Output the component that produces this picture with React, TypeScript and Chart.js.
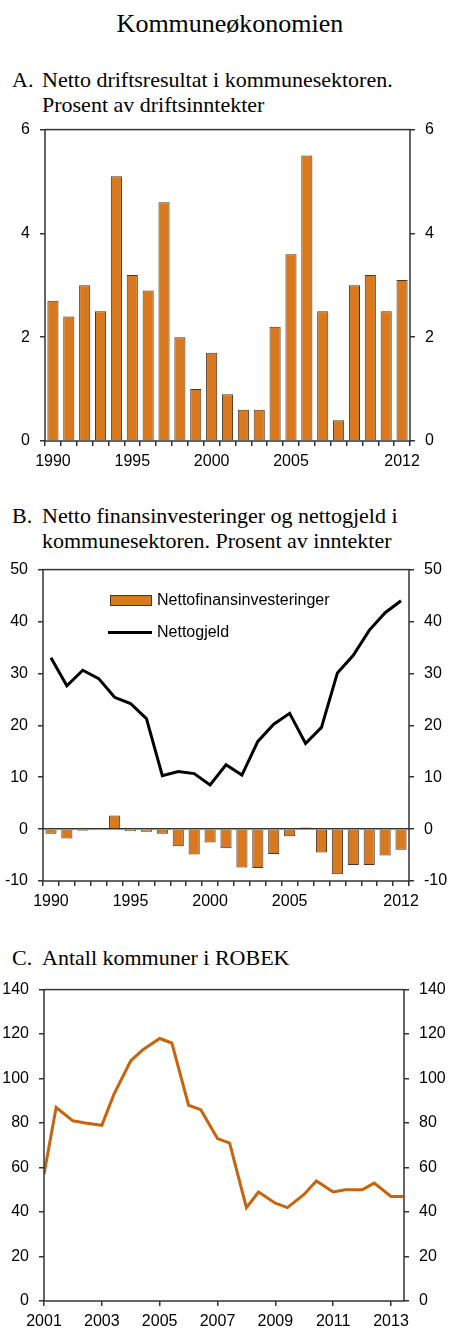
import { useEffect, useRef } from "react";
import { Chart, registerables } from "chart.js";
import type { ChartConfiguration, Plugin } from "chart.js";

Chart.register(...registerables);

// Panel A and B: years 1990-2012
const years = [
  "1990", "1991", "1992", "1993", "1994", "1995", "1996", "1997", "1998", "1999", "2000", "2001",
  "2002", "2003", "2004", "2005", "2006", "2007", "2008", "2009", "2010", "2011", "2012",
];
const shownYears = ["1990", "1995", "2000", "2005", "2012"];

// A. Netto driftsresultat, prosent av driftsinntekter
const driftsresultat = [
  2.7, 2.4, 3.0, 2.5, 5.1, 3.2, 2.9, 4.6, 2.0, 1.0, 1.7, 0.9, 0.6, 0.6, 2.2, 3.6, 5.5, 2.5, 0.4,
  3.0, 3.2, 2.5, 3.1,
];

// B. Nettofinansinvesteringer og nettogjeld, prosent av inntekter
const nettofinansinvesteringer = [
  -0.9, -1.8, -0.3, 0, 2.6, -0.4, -0.5, -0.9, -3.3, -4.9, -2.6, -3.7, -7.4, -7.5, -4.8, -1.4, 0.3,
  -4.5, -8.7, -6.9, -6.9, -5.1, -4.0,
];
const nettogjeld = [
  33.0, 27.6, 30.6, 29.0, 25.4, 24.2, 21.3, 10.3, 11.1, 10.7, 8.5, 12.4, 10.4, 16.9, 20.2, 22.3,
  16.5, 19.6, 30.1, 33.5, 38.3, 41.7, 44.0,
];

// C. Antall kommuner i ROBEK (januar og juni hvert år)
const robekDates = [
  2001.0, 2001.42, 2002.0, 2002.42, 2003.0, 2003.42, 2004.0, 2004.42, 2005.0, 2005.42, 2006.0,
  2006.42, 2007.0, 2007.42, 2008.0, 2008.42, 2009.0, 2009.42, 2010.0, 2010.42, 2011.0, 2011.42,
  2012.0, 2012.42, 2013.0, 2013.42,
];
const robekCounts = [
  57, 87, 81, 80, 79, 93, 108, 113, 118, 116, 88, 86, 73, 71, 42, 49, 44, 42, 48, 54, 49, 50, 50,
  53, 47, 47,
];
const robekTicks = [2001, 2003, 2005, 2007, 2009, 2011, 2013];

const ORANGE = "#d9791f";
const BAR_EDGE = "#4a3522";
const LINE_ORANGE = "#c8630e";
const AXIS = "#333333";
const tickFont = { family: "'Liberation Sans', Arial, sans-serif", size: 16 };
const serif = "'Liberation Serif', 'Times New Roman', serif";
const sans = "'Liberation Sans', Arial, sans-serif";

const framePlugin: Plugin = {
  id: "frame",
  afterDraw(chart) {
    const { ctx, chartArea: a } = chart;
    ctx.save();
    ctx.strokeStyle = AXIS;
    ctx.lineWidth = 1.5;
    ctx.strokeRect(a.left, a.top, a.right - a.left, a.bottom - a.top);
    ctx.restore();
  },
};

function yAxis(position: "left" | "right", min: number, max: number, step: number, width: number, zeroLine = false) {
  return {
    position,
    min,
    max,
    border: { display: false },
    grid: {
      drawOnChartArea: zeroLine,
      color: (c: any) => (zeroLine && c.tick && c.tick.value === 0 ? AXIS : "rgba(0,0,0,0)"),
      tickColor: AXIS,
      tickLength: 5,
      lineWidth: 1.5,
    },
    ticks: { stepSize: step, padding: 10, color: "#000", font: tickFont },
    afterFit(scale: any) {
      scale.width = width;
    },
  };
}

function yearAxis() {
  return {
    type: "category" as const,
    offset: true,
    border: { display: false },
    grid: { offset: true, drawOnChartArea: false, tickColor: AXIS, tickLength: 5, lineWidth: 1.5 },
    ticks: {
      autoSkip: false,
      maxRotation: 0,
      padding: 6,
      color: "#000",
      font: tickFont,
      callback(this: any, value: any) {
        const label = this.getLabelForValue(value);
        return shownYears.includes(label) ? label : "";
      },
    },
    afterFit(scale: any) {
      scale.height = 30;
    },
  };
}

function makeA(): ChartConfiguration {
  return {
    type: "bar",
    data: {
      labels: years,
      datasets: [
        {
          data: driftsresultat,
          backgroundColor: ORANGE,
          borderColor: BAR_EDGE,
          borderWidth: 1,
          barPercentage: 0.7,
          categoryPercentage: 1,
        },
      ],
    },
    options: {
      responsive: true,
      maintainAspectRatio: false,
      animation: false,
      layout: { padding: { top: 14, bottom: 4, left: 0, right: 0 } },
      plugins: { legend: { display: false }, tooltip: { enabled: false } },
      scales: {
        x: yearAxis(),
        y: yAxis("left", 0, 6, 2, 45),
        y2: yAxis("right", 0, 6, 2, 40),
      } as any,
    },
    plugins: [framePlugin],
  };
}

function makeB(): ChartConfiguration {
  return {
    type: "bar",
    data: {
      labels: years,
      datasets: [
        {
          type: "line",
          label: "Nettogjeld",
          data: nettogjeld,
          borderColor: "#000",
          borderWidth: 3,
          pointRadius: 0,
          tension: 0,
          yAxisID: "y",
        } as any,
        {
          label: "Nettofinansinvesteringer",
          data: nettofinansinvesteringer,
          backgroundColor: ORANGE,
          borderColor: BAR_EDGE,
          borderWidth: 1,
          barPercentage: 0.7,
          categoryPercentage: 1,
          yAxisID: "y",
        },
      ],
    },
    options: {
      responsive: true,
      maintainAspectRatio: false,
      animation: false,
      layout: { padding: { top: 17, bottom: 4, left: 0, right: 0 } },
      plugins: { legend: { display: false }, tooltip: { enabled: false } },
      scales: {
        x: yearAxis(),
        y: yAxis("left", -10, 50, 10, 43, true),
        y2: yAxis("right", -10, 50, 10, 41),
      } as any,
    },
    plugins: [framePlugin],
  };
}

function makeC(): ChartConfiguration {
  return {
    type: "line",
    data: {
      datasets: [
        {
          data: robekDates.map((d, i) => ({ x: d, y: robekCounts[i] })),
          borderColor: LINE_ORANGE,
          borderWidth: 3,
          pointRadius: 0,
          tension: 0,
        },
      ],
    },
    options: {
      responsive: true,
      maintainAspectRatio: false,
      animation: false,
      layout: { padding: { top: 13, bottom: 4, left: 0, right: 0 } },
      plugins: { legend: { display: false }, tooltip: { enabled: false } },
      scales: {
        x: {
          type: "linear",
          min: 2001,
          max: 2013.45,
          border: { display: false },
          grid: { drawOnChartArea: false, tickColor: AXIS, tickLength: 5, lineWidth: 1.5 },
          afterBuildTicks(scale: any) {
            scale.ticks = robekTicks.map((v) => ({ value: v }));
          },
          ticks: {
            padding: 6,
            color: "#000",
            font: tickFont,
            callback: (v: any) => String(v),
          },
          afterFit(scale: any) {
            scale.height = 30;
          },
        },
        y: yAxis("left", 0, 140, 20, 44),
        y2: yAxis("right", 0, 140, 20, 46),
      } as any,
    },
    plugins: [framePlugin],
  };
}

function ChartBox({ top, height, make }: { top: number; height: number; make: () => ChartConfiguration }) {
  const ref = useRef<HTMLCanvasElement>(null);
  useEffect(() => {
    if (!ref.current) return;
    const chart = new Chart(ref.current, make());
    return () => chart.destroy();
  }, [make]);
  return (
    <div style={{ position: "absolute", left: 0, top, width: 450, height }}>
      <canvas ref={ref} />
    </div>
  );
}

function Heading({ top, letter, lines }: { top: number; letter: string; lines: string[] }) {
  return (
    <div style={{ position: "absolute", top, left: 0, width: 450, fontFamily: serif, fontSize: 22, lineHeight: "25px", color: "#000" }}>
      <div style={{ position: "absolute", left: 12, top: 0 }}>{letter}</div>
      <div style={{ position: "absolute", left: 42, top: 0, whiteSpace: "nowrap" }}>
        {lines.map((l) => (
          <div key={l}>{l}</div>
        ))}
      </div>
    </div>
  );
}

export default function App() {
  return (
    <div style={{ position: "absolute", left: 0, top: 0, width: 450, height: 1344, background: "#fff" }}>
      <div
        style={{
          position: "absolute",
          top: 9,
          left: 5,
          width: 450,
          textAlign: "center",
          fontFamily: serif,
          fontSize: 26,
          lineHeight: "30px",
          color: "#000",
        }}
      >
        Kommuneøkonomien
      </div>

      <Heading top={67} letter="A." lines={["Netto driftsresultat i kommunesektoren.", "Prosent av driftsinntekter"]} />
      <ChartBox top={110} height={365} make={makeA} />

      <Heading top={503} letter="B." lines={["Netto finansinvesteringer og nettogjeld i", "kommunesektoren. Prosent av inntekter"]} />
      <ChartBox top={550} height={365} make={makeB} />
      <div style={{ position: "absolute", left: 110, top: 595, width: 40, height: 9, background: ORANGE, border: `1px solid ${BAR_EDGE}` }} />
      <div style={{ position: "absolute", left: 157, top: 590, fontFamily: sans, fontSize: 16, lineHeight: "20px", color: "#000" }}>
        Nettofinansinvesteringer
      </div>
      <div style={{ position: "absolute", left: 108, top: 631, width: 44, height: 3, background: "#000" }} />
      <div style={{ position: "absolute", left: 157, top: 622, fontFamily: sans, fontSize: 16, lineHeight: "20px", color: "#000" }}>
        Nettogjeld
      </div>

      <Heading top={945} letter="C." lines={["Antall kommuner i ROBEK"]} />
      <ChartBox top={970} height={365} make={makeC} />
    </div>
  );
}
